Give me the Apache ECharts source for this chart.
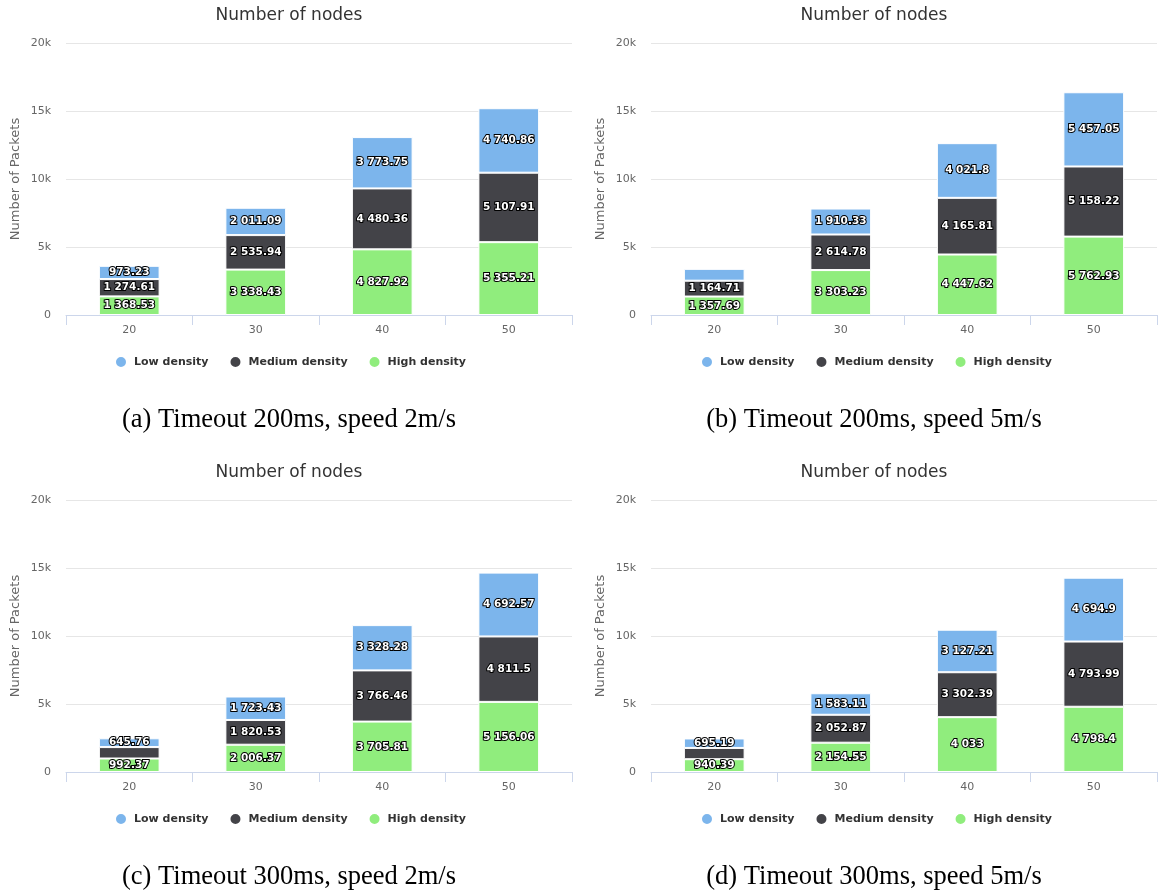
<!DOCTYPE html>
<html>
<head>
<meta charset="utf-8">
<script src="https://cdn.jsdelivr.net/npm/echarts@6/dist/echarts.min.js"></script>
<style>
html,body{margin:0;padding:0;background:#fff;}
#main{width:1159px;height:892px;}
</style>
</head>
<body>
<div id="main"></div>
<script>
// ---- data ----
const categories = ['20', '30', '40', '50'];
const seriesNames = ['Low density', 'Medium density', 'High density'];
const yTicks = [0, 5000, 10000, 15000, 20000];

// (a) Timeout 200ms, speed 2m/s
const lowA  = [973.23, 2011.09, 3773.75, 4740.86];
const medA  = [1274.61, 2535.94, 4480.36, 5107.91];
const highA = [1368.53, 3338.43, 4827.92, 5355.21];
// (b) Timeout 200ms, speed 5m/s
const lowB  = [870, 1910.33, 4021.8, 5457.05];
const medB  = [1164.71, 2614.78, 4165.81, 5158.22];
const highB = [1357.69, 3303.23, 4447.62, 5762.93];
// (c) Timeout 300ms, speed 2m/s
const lowC  = [645.76, 1723.43, 3328.28, 4692.57];
const medC  = [840, 1820.53, 3766.46, 4811.5];
const highC = [992.37, 2006.37, 3705.81, 5156.06];
// (d) Timeout 300ms, speed 5m/s
const lowD  = [695.19, 1583.11, 3127.21, 4694.9];
const medD  = [830, 2052.87, 3302.39, 4793.99];
const highD = [940.39, 2154.55, 4033, 4798.4];

const chartTitle = 'Number of nodes';
const yAxisName = 'Number of Packets';
const captions = ['(a) Timeout 200ms, speed 2m/s', '(b) Timeout 200ms, speed 5m/s',
                  '(c) Timeout 300ms, speed 2m/s', '(d) Timeout 300ms, speed 5m/s'];

// ---- layout / style ----
const COLORS = {low: '#7cb5ec', med: '#434348', high: '#90ed7d'};
const FONT = 'DejaVu Sans';
const panels = [
  {low: lowA, med: medA, high: highA, gx: 66,  gy: 43,  cx: 289, lx: 114, hide: {}},
  {low: lowB, med: medB, high: highB, gx: 651, gy: 43,  cx: 874, lx: 700, hide: {low: [0]}},
  {low: lowC, med: medC, high: highC, gx: 66,  gy: 500, cx: 289, lx: 114, hide: {med: [0]}},
  {low: lowD, med: medD, high: highD, gx: 651, gy: 500, cx: 874, lx: 700, hide: {med: [0]}}
];
const GW = 506, GH = 272;

function fmt(v) {
  const s = String(v);
  const parts = s.split('.');
  const i = parts[0].replace(/\B(?=(\d{3})+(?!\d))/g, ' ');
  return parts.length > 1 ? i + '.' + parts[1] : i;
}

const grid = [], xAxis = [], yAxis = [], series = [], title = [], legend = [];
panels.forEach((p, k) => {
  grid.push({left: p.gx, top: p.gy, width: GW, height: GH, containLabel: false});
  xAxis.push({
    type: 'category', gridIndex: k, data: categories,
    axisLine: {lineStyle: {color: '#ccd6eb'}},
    axisTick: {show: true, length: 10, lineStyle: {color: '#ccd6eb'}},
    axisLabel: {color: '#666', fontSize: 11, fontFamily: FONT, margin: 10},
    splitLine: {show: false}
  });
  yAxis.push({
    type: 'value', gridIndex: k, min: yTicks[0], max: yTicks[yTicks.length - 1],
    interval: yTicks[1] - yTicks[0],
    name: yAxisName, nameLocation: 'middle', nameGap: 44,
    nameTextStyle: {color: '#666', fontSize: 13, fontFamily: FONT},
    axisLine: {show: false}, axisTick: {show: false},
    axisLabel: {color: '#666', fontSize: 11, fontFamily: FONT, margin: 15,
      formatter: v => v === 0 ? '0' : (v / 1000) + 'k'},
    splitLine: {lineStyle: {color: '#e6e6e6'}}
  });
  const defs = [
    ['High density', p.high, COLORS.high, 'high'],
    ['Medium density', p.med, COLORS.med, 'med'],
    ['Low density', p.low, COLORS.low, 'low']
  ];
  defs.forEach(([name, vals, color, key]) => {
    const hidden = p.hide[key] || [];
    series.push({
      type: 'bar', name: name, xAxisIndex: k, yAxisIndex: k, stack: 's' + k,
      barWidth: '48%',
      itemStyle: {color: color, borderColor: '#fff', borderWidth: 1},
      label: {
        show: true, position: 'inside', color: '#fff', fontSize: 10.5, fontWeight: 'bold',
        fontFamily: FONT, textBorderColor: '#000', textBorderWidth: 2,
        formatter: prm => fmt(prm.value)
      },
      emphasis: {disabled: true},
      data: vals.map((v, i) => hidden.indexOf(i) >= 0 ? {value: v, label: {show: false}} : v)
    });
  });
  title.push({
    text: chartTitle, left: p.cx, top: p.gy - 36, textAlign: 'center', padding: 0,
    textStyle: {color: '#333', fontSize: 17, fontWeight: 'normal', fontFamily: FONT}
  });
  title.push({
    text: captions[k], left: p.cx, top: p.gy + 364, textAlign: 'center', padding: 0,
    textStyle: {color: '#000', fontSize: 26.5, fontWeight: 'normal', fontFamily: 'Liberation Serif'}
  });
  legend.push({
    data: seriesNames, left: p.lx, top: p.gy + 312, padding: 0,
    icon: 'circle', itemWidth: 12, itemHeight: 12, itemGap: 20,
    textStyle: {color: '#333', fontSize: 11, fontWeight: 'bold', fontFamily: FONT, padding: [0, 0, 0, 2]}
  });
});

const chart = echarts.init(document.getElementById('main'), null, {renderer: 'canvas'});
chart.setOption({
  animation: false,
  backgroundColor: '#fff',
  title: title, legend: legend, grid: grid, xAxis: xAxis, yAxis: yAxis, series: series
});
</script>
</body>
</html>
